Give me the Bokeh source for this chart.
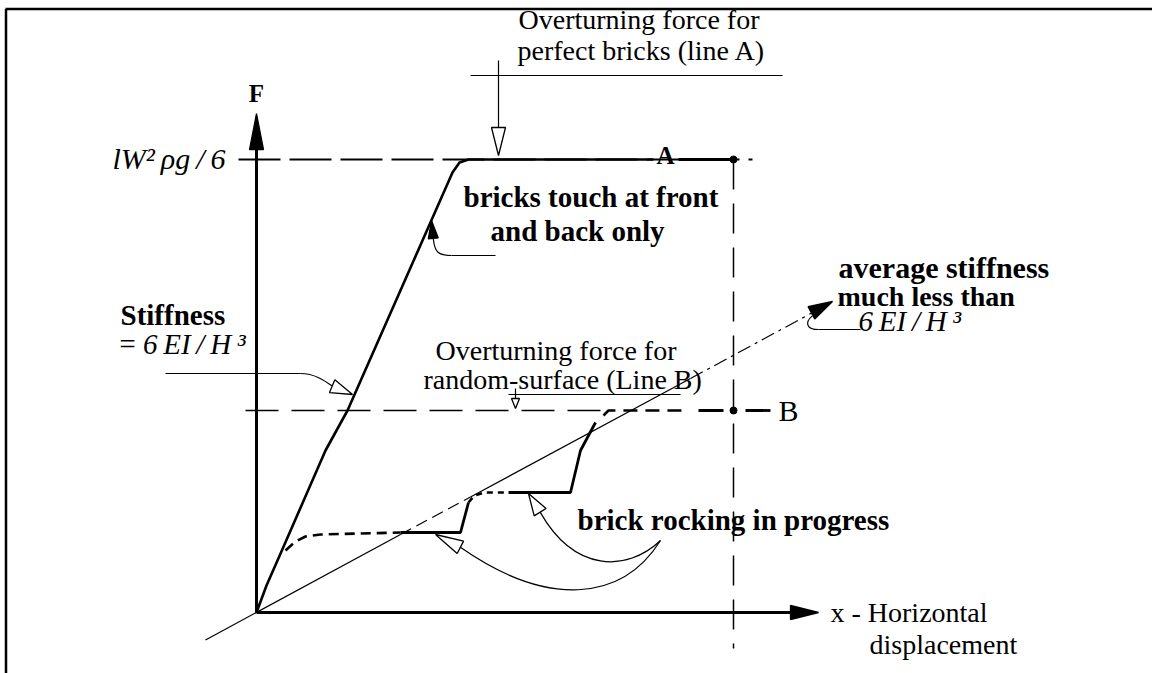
import math
from bokeh.plotting import figure
from bokeh.models import Range1d, ColumnDataSource
from bokeh.core.properties import value
from bokeh.embed import file_html
from bokeh.resources import INLINE

# ---------------- data (x = horizontal displacement, F = force; origin at 0) -------------
axis_x_end = 562
axis_y_end = 499
level_A = 453            # overturning force, perfect bricks (line A)
level_B = 202            # overturning force, random surface (line B)
x_limit = 477            # limiting displacement (vertical dashed line)

# Line A: stiff response then plateau
curveA_x = [0, 10, 21, 69, 91, 196, 203, 212, 397]
curveA_y = [0, 27, 52, 162, 202, 440, 450, 453, 453]
curveA2_x = [422, 477]
curveA2_y = [453, 453]

# Line B: brick rocking in progress (segments)
rock1_x = [29, 39, 49, 64, 144]
rock1_y = [62, 71, 76, 78, 80]
rock2_x = [144, 204, 212]
rock2_y = [80, 80, 110]
rock3_x = [212, 218, 228, 252]
rock3_y = [110, 117, 120, 120]
rock4_x = [252, 314, 324, 339]
rock4_y = [120, 120, 162, 190]
rock5_x = [347, 352, 427]
rock5_y = [197, 202, 202]
rock6_x = [442, 514]
rock6_y = [202, 202]

# Average stiffness line
avg_solid_x = [-51, 144]
avg_solid_y = [-27.5, 78]
avg_dash_x = [144, 214]
avg_dash_y = [78, 115.5]
avg_solid2_x = [214, 434]
avg_solid2_y = [115.5, 234]
avg_dashdot_x = [434, 558]
avg_dashdot_y = [234, 301]
avg_tip = (576, 311)

# reference lines
levelA_x = [-18, 496]
levelB_x = [-11, 347]
vline_y = [453, -36]

# end points (dots)
dot_x = [477, 477]
dot_y = [453, 202]

# frame
x_lo, x_hi = -256, 896
y_lo, y_hi = -61, 612

# ---------------- figure ----------------
p = figure(width=1152, height=673, x_range=Range1d(x_lo, x_hi), y_range=Range1d(y_lo, y_hi),
           output_backend="svg", toolbar_location=None, min_border=0,
           background_fill_color="white", border_fill_color="white")
p.axis.visible = False
p.grid.visible = False
p.outline_line_color = None

BLACK = "#000000"

# border (top and left)
p.line([x_lo + 5, x_hi], [603.5, 603.5], line_color=BLACK, line_width=2.5)
p.line([x_lo + 5.5, x_lo + 5.5], [y_lo, 603.5], line_color=BLACK, line_width=2.5)

# axes
p.line([0, 0], [0, axis_y_end - 20], line_color=BLACK, line_width=3)
p.line([0, axis_x_end - 15], [0, 0], line_color=BLACK, line_width=3)


def arrowhead(tx, ty, dx, dy, length, hw, fill):
    n = math.hypot(dx, dy)
    ux, uy = dx / n, dy / n
    bx, by = tx - ux * length, ty - uy * length
    px_, py_ = -uy * hw, ux * hw
    p.patch([tx, bx + px_, bx - px_], [ty, by + py_, by - py_],
            fill_color=fill, line_color=BLACK, line_width=1.3)
    return bx, by


arrowhead(0, axis_y_end, 0, 1, 36, 7, BLACK)
arrowhead(axis_x_end, 0, 1, 0, 28, 7, BLACK)

# reference dashed lines
p.line(levelA_x, [level_A, level_A], line_color=BLACK, line_width=1.8, line_dash="42 9")
p.line(levelB_x, [level_B, level_B], line_color=BLACK, line_width=1.6, line_dash="33 13")
p.line([x_limit, x_limit], vline_y, line_color=BLACK, line_width=1.5, line_dash="30 14")

# average stiffness line
p.line(avg_solid_x, avg_solid_y, line_color=BLACK, line_width=1.2)
p.line(avg_dash_x, avg_dash_y, line_color=BLACK, line_width=1.2, line_dash="12 6")
p.line(avg_solid2_x, avg_solid2_y, line_color=BLACK, line_width=1.2)
p.line(avg_dashdot_x, avg_dashdot_y, line_color=BLACK, line_width=1.2, line_dash="14 5 3 5")

# Line A
p.line(curveA_x, curveA_y, line_color=BLACK, line_width=2.6, line_join="round")
p.line(curveA2_x, curveA2_y, line_color=BLACK, line_width=2.8)

# Line B (rocking)
p.line(rock1_x, rock1_y, line_color=BLACK, line_width=2.6, line_dash="10 6")
p.line(rock2_x, rock2_y, line_color=BLACK, line_width=2.8)
p.line(rock3_x, rock3_y, line_color=BLACK, line_width=2.6, line_dash="6 5")
p.line(rock4_x, rock4_y, line_color=BLACK, line_width=2.8)
p.line(rock5_x, rock5_y, line_color=BLACK, line_width=2.6, line_dash="14 8")
p.line(rock6_x, rock6_y, line_color=BLACK, line_width=2.8, line_dash="25 22")

p.scatter(dot_x, dot_y, size=7, color=BLACK)

# ---------------- annotation leaders ----------------
LW = 1.2
# line A label
p.line([214, 526], [537, 537], line_color=BLACK, line_width=LW)
bA = arrowhead(242, 457, 0, -1, 28, 7, "white")
p.line([242, 242], [552, bA[1]], line_color=BLACK, line_width=LW)
# line B label
p.line([252, 424], [218, 218], line_color=BLACK, line_width=LW)
bB = arrowhead(259, 204, 0, -1, 10, 4, "white")
p.line([259, 259], [224, bB[1]], line_color=BLACK, line_width=LW)
# stiffness
p.line([-91, 44], [239, 239], line_color=BLACK, line_width=LW)
bS = arrowhead(96, 218, 0.92, -0.38, 22, 7, "white")
p.bezier(x0=[44], y0=[239], x1=[bS[0]], y1=[bS[1]], cx0=[58], cy0=[239], cx1=[68], cy1=[232],
         line_color=BLACK, line_width=LW)
# bricks touch
bT = arrowhead(175, 392, -0.1, 1, 18, 5, BLACK)
p.bezier(x0=[bT[0]], y0=[bT[1]], x1=[195], y1=[357], cx0=[178], cy0=[360], cx1=[182], cy1=[357],
         line_color=BLACK, line_width=LW)
p.line([195, 239], [357, 357], line_color=BLACK, line_width=LW)
# average stiffness
bV = arrowhead(avg_tip[0], avg_tip[1], 0.88, 0.475, 24, 7, BLACK)
p.bezier(x0=[bV[0] + 1], y0=[bV[1] - 3], x1=[562], y1=[283], cx0=[548], cy0=[290], cx1=[550],
         cy1=[283], line_color=BLACK, line_width=LW)
p.line([562, 604], [283, 283], line_color=BLACK, line_width=LW)
# brick rocking
bRa = arrowhead(272, 119, -0.53, 0.85, 22, 7, "white")
p.bezier(x0=[404], y0=[72], x1=[bRa[0]], y1=[bRa[1]], cx0=[370], cy0=[40], cx1=[318], cy1=[40],
         line_color=BLACK, line_width=LW)
bRb = arrowhead(179, 78, -0.89, 0.46, 28, 7, "white")
p.bezier(x0=[404], y0=[72], x1=[bRb[0]], y1=[bRb[1]], cx0=[365], cy0=[10], cx1=[290], cy1=[5],
         line_color=BLACK, line_width=LW)

# ---------------- texts ----------------
FONT = value("Liberation Serif")


def txt(xs, ys, texts, size, style="normal", align="left"):
    src = ColumnDataSource(dict(x=xs, y=ys, t=texts))
    p.text(x="x", y="y", text="t", source=src, text_font=FONT, text_font_size=value(size),
           text_font_style=style, text_align=align, text_baseline="alphabetic", text_color=BLACK)


TS = "\u2009"
reg_text = ["Overturning force for", "perfect bricks (line A)", "Overturning force for",
            "random-surface (Line B)", "x - Horizontal", "displacement"]
reg_x = [262, 261, 179, 167, 574, 613]
reg_y = [593, 562, 262, 233, 0, -32]
txt(reg_x, reg_y, reg_text, "28px")

bold_text = ["bricks touch at front", "and back only", "Stiffness", "brick rocking in progress"]
bold_x = [207, 234, -136, 321]
bold_y = [416, 382, 298, 93]
txt(bold_x, bold_y, bold_text, "29px", "bold")
txt([582], [345], ["average stiffness"], "30px", "bold")
txt([581], [316], ["much less than"], "28px", "bold")

txt([0, 409], [519, 457], ["F", "A"], "25px", "bold", "center")
txt([522], [202], ["B"], "30px")

txt([-31], [454], ["lW\u00b2" + TS + "\u03c1g" + TS + "/" + TS + "6"], "30px", "italic", "right")
txt([-139, 602], [269, 292],
    ["=" + TS + "6" + TS + "EI" + TS + "/" + TS + "H" + TS + "\u00b3",
     "6" + TS + "EI" + TS + "/" + TS + "H" + TS + "\u00b3"], "29px", "italic")

open("out.html", "w").write(file_html(p, INLINE))
